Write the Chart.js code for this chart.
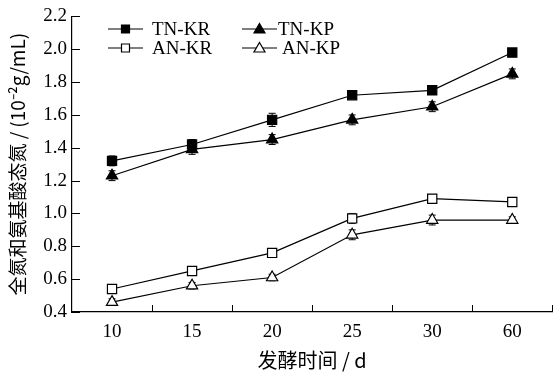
<!DOCTYPE html>
<html>
<head>
<meta charset="utf-8">
<script src="https://cdn.jsdelivr.net/npm/chart.js@4"></script>
<style>
html, body { margin: 0; padding: 0; background: #fff; }
#grafico { display: block; }
</style>
</head>
<body>
<canvas id="grafico" width="560" height="378"></canvas>
<script>
// dados
const dias = ['10', '15', '20', '25', '30', '60']
const tnKR = [1.32, 1.42, 1.57, 1.72, 1.75, 1.98]
const tnKP = [1.23, 1.39, 1.45, 1.57, 1.65, 1.85]
const anKR = [0.54, 0.65, 0.76, 0.97, 1.09, 1.07]
const anKP = [0.46, 0.56, 0.61, 0.87, 0.96, 0.96]
const errTnKR = [0.03, 0.03, 0.04, 0.02, 0.02, 0.02]
const errTnKP = [0.03, 0.03, 0.03, 0.03, 0.03, 0.03]
const errAnKR = [0.02, 0.02, 0.02, 0.03, 0.02, 0.02]
const errAnKP = [0.02, 0.02, 0.02, 0.03, 0.03, 0.02]
const yTicks = [0.4, 0.6, 0.8, 1.0, 1.2, 1.4, 1.6, 1.8, 2.0, 2.2]

const FONTE = '"Liberation Serif", "Times New Roman", serif'
const FONTE_CN = '"Noto Sans CJK SC", "Liberation Serif", serif'

function serie(label, data, erros, estilo, cheio) {
	return {
		label: label,
		data: data,
		erros: erros,
		borderColor: '#000',
		borderWidth: 1.2,
		pointStyle: estilo,
		pointRadius: 6.5,
		pointBorderWidth: 1.2,
		pointBackgroundColor: cheio ? '#000' : '#fff',
		pointBorderColor: '#000',
		tension: 0,
		fill: false
	}
}

// barras de erro, marcas de escala para dentro e legenda
const extras = {
	id: 'extras',
	beforeDatasetsDraw(chart) {
		const ctx = chart.ctx
		ctx.save()
		ctx.strokeStyle = '#000'
		ctx.lineWidth = 1
		chart.data.datasets.forEach((ds, i) => {
			const meta = chart.getDatasetMeta(i)
			const y = chart.scales.y
			meta.data.forEach((pt, j) => {
				const v = ds.data[j], e = ds.erros[j]
				const y1 = y.getPixelForValue(v + e), y2 = y.getPixelForValue(v - e)
				ctx.beginPath()
				ctx.moveTo(pt.x, y1); ctx.lineTo(pt.x, y2)
				ctx.moveTo(pt.x - 3.5, y1); ctx.lineTo(pt.x + 3.5, y1)
				ctx.moveTo(pt.x - 3.5, y2); ctx.lineTo(pt.x + 3.5, y2)
				ctx.stroke()
			})
		})
		ctx.restore()
	},
	afterDraw(chart) {
		const ctx = chart.ctx
		const x = chart.scales.x, y = chart.scales.y
		const area = chart.chartArea
		ctx.save()
		ctx.strokeStyle = '#000'
		ctx.lineWidth = 1
		ctx.beginPath()
		yTicks.forEach((t) => {
			const py = Math.round(y.getPixelForValue(t)) + 0.5
			ctx.moveTo(area.left, py); ctx.lineTo(area.left + 8, py)
		})
		for (let i = 1; i <= dias.length; i++) {
			const px = Math.round((x.getPixelForValue(i - 1) + x.getPixelForValue(i)) / 2) + 0.5
			ctx.moveTo(px, area.bottom); ctx.lineTo(px, area.bottom - 7)
		}
		ctx.stroke()

		// legenda
		const itens = [
			{ ds: 0, x: 108, y: 29, tx: 152 }, { ds: 1, x: 242, y: 29, tx: 278 },
			{ ds: 2, x: 108, y: 48, tx: 152 }, { ds: 3, x: 242, y: 48, tx: 282 }
		]
		ctx.font = '19px ' + FONTE
		ctx.textBaseline = 'middle'
		ctx.fillStyle = '#000'
		itens.forEach((it) => {
			const ds = chart.data.datasets[it.ds]
			ctx.lineWidth = 1.2
			ctx.beginPath()
			ctx.moveTo(it.x, it.y); ctx.lineTo(it.x + 35, it.y)
			ctx.stroke()
			ctx.fillStyle = ds.pointBackgroundColor
			const cx = it.x + 17.5
			ctx.beginPath()
			if (ds.pointStyle === 'rect') {
				ctx.rect(cx - 4, it.y - 4, 8, 8)
			} else {
				ctx.moveTo(cx, it.y - 5.5)
				ctx.lineTo(cx + 5.5, it.y + 4)
				ctx.lineTo(cx - 5.5, it.y + 4)
				ctx.closePath()
			}
			ctx.fill(); ctx.stroke()
			ctx.fillStyle = '#000'
			ctx.fillText(ds.label, it.tx, it.y + 1)
		})
		ctx.restore()
	}
}

new Chart(document.getElementById('grafico'), {
	type: 'line',
	data: {
		labels: dias,
		datasets: [
			serie('TN-KR', tnKR, errTnKR, 'rect', true),
			serie('TN-KP', tnKP, errTnKP, 'triangle', true),
			serie('AN-KR', anKR, errAnKR, 'rect', false),
			serie('AN-KP', anKP, errAnKP, 'triangle', false)
		]
	},
	options: {
		responsive: false,
		animation: false,
		devicePixelRatio: 1,
		layout: { padding: { top: 16, right: 1, left: 0, bottom: 0 } },
		plugins: { legend: { display: false }, tooltip: { enabled: false } },
		scales: {
			x: {
				offset: true,
				grid: { display: false, drawTicks: false },
				border: { display: true, color: '#000', width: 1.2 },
				ticks: { color: '#000', font: { family: FONTE, size: 19 }, padding: 9, maxRotation: 0 },
				title: { display: true, text: '发酵时间 / d', color: '#000', font: { family: FONTE_CN, size: 20 }, padding: { top: 0, bottom: 6 } },
				afterFit: (s) => { s.height = 66 }
			},
			y: {
				min: 0.4,
				max: 2.2,
				afterBuildTicks: (s) => { s.ticks = yTicks.map((v) => ({ value: v })) },
				grid: { display: false, drawTicks: false },
				border: { display: true, color: '#000', width: 1.2 },
				ticks: { color: '#000', autoSkip: false, font: { family: FONTE, size: 19 }, padding: 5, callback: (v) => v.toFixed(1) },
				title: { display: true, text: '全氮和氨基酸态氮 / (10⁻²g/mL)', color: '#000', font: { family: FONTE_CN, size: 19 }, padding: { top: 6, bottom: 0 } },
				afterFit: (s) => { s.width = 72 }
			}
		}
	},
	plugins: [extras]
})
</script>
</body>
</html>
